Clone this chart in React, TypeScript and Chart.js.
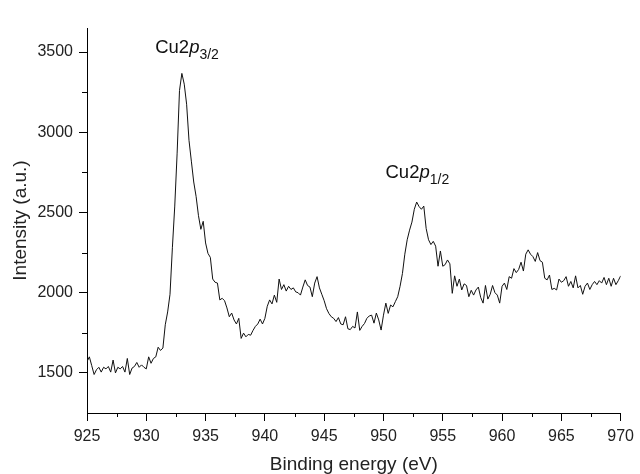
import React, { useEffect, useRef } from "react";
import { Chart, registerables } from "chart.js";

Chart.register(...registerables);

const FONT = "'Liberation Sans', Arial, Helvetica, sans-serif";

// Binding energy grid (eV)
const energyStart = 925;
const energyStep = 0.2;

// Intensity (a.u.), one value per 0.2 eV from 925.0 to 970.0
const intensity = [
  1570, 1600, 1545, 1490, 1520, 1535, 1505, 1535, 1525, 1540,
  1505, 1580, 1500, 1535, 1525, 1540, 1505, 1590, 1490, 1530,
  1540, 1565, 1535, 1550, 1535, 1525, 1600, 1560, 1590, 1600,
  1660, 1640, 1655, 1800, 1880, 1990, 2280, 2540, 2870, 3260,
  3367, 3300, 3175, 2950, 2820, 2690, 2600, 2480, 2395, 2445,
  2310, 2245, 2220, 2085, 2065, 2060, 1955, 1965, 1950, 1905,
  1850, 1873, 1830, 1805, 1840, 1715, 1748, 1725, 1740, 1735,
  1765, 1790, 1805, 1835, 1805, 1840, 1915, 1955, 1930, 1985,
  1940, 2085, 2020, 2050, 2010, 2040, 2020, 2030, 2005, 2000,
  1985, 2035, 2080, 2045, 2035, 1975, 2060, 2100, 2030, 1990,
  1950, 1900, 1870, 1850, 1840, 1820, 1845, 1805, 1800, 1850,
  1775, 1770, 1790, 1780, 1880, 1765, 1790, 1808, 1840, 1855,
  1860, 1810, 1873, 1830, 1767, 1860, 1935, 1871, 1923, 1912,
  1944, 1975, 2040, 2120, 2240, 2330, 2390, 2440, 2520, 2565,
  2537, 2520, 2540, 2400, 2330, 2300, 2320, 2290, 2165, 2260,
  2165, 2175, 2204, 2180, 1996, 2105, 2040, 2085, 2017, 2055,
  2045, 1975, 2015, 1985, 2017, 2035, 1970, 1935, 2045, 1960,
  1990, 2045, 2000, 1985, 1935, 2040, 2060, 2020, 2100, 2090,
  2150, 2125, 2145, 2190, 2135, 2240, 2267, 2240, 2225, 2195,
  2250, 2200, 2190, 2090, 2080, 2110, 2020, 2027, 2017, 2085,
  2065, 2075, 2100, 2040, 2070, 2030, 2105, 2030, 2045, 1990,
  2040, 2060, 2020, 2050, 2070, 2050, 2075, 2060, 2095, 2050,
  2090, 2040, 2090, 2050, 2075, 2105,
];

const xTicks = [925, 930, 935, 940, 945, 950, 955, 960, 965, 970];
const xMinorTicks = [927.5, 932.5, 937.5, 942.5, 947.5, 952.5, 957.5, 962.5, 967.5];
const yTicks = [1500, 2000, 2500, 3000, 3500];
const yMinorTicks = [1750, 2250, 2750, 3250];

const peakLabels = [
  { base: "Cu2", italic: "p", sub: "3/2", x: 930.75, y: 3496 },
  { base: "Cu2", italic: "p", sub: "1/2", x: 950.17, y: 2715 },
];

const overlayPlugin = {
  id: "overlay",
  afterDraw(chart: any) {
    const { ctx, chartArea, scales } = chart;
    const xs = scales.x;
    const ys = scales.y;
    ctx.save();
    ctx.strokeStyle = "#000";
    ctx.lineWidth = 1;
    ctx.beginPath();
    xMinorTicks.forEach((v) => {
      const px = Math.round(xs.getPixelForValue(v)) + 0.5;
      ctx.moveTo(px, chartArea.bottom);
      ctx.lineTo(px, chartArea.bottom + 4);
    });
    yMinorTicks.forEach((v) => {
      const py = Math.round(ys.getPixelForValue(v)) + 0.5;
      ctx.moveTo(chartArea.left - 5, py);
      ctx.lineTo(chartArea.left, py);
    });
    ctx.stroke();

    ctx.fillStyle = "#111";
    ctx.textAlign = "left";
    ctx.textBaseline = "alphabetic";
    peakLabels.forEach((l) => {
      let px = xs.getPixelForValue(l.x);
      const py = ys.getPixelForValue(l.y);
      ctx.font = `18.5px ${FONT}`;
      ctx.fillText(l.base, px, py);
      px += ctx.measureText(l.base).width;
      ctx.font = `italic 18.5px ${FONT}`;
      ctx.fillText(l.italic, px, py);
      px += ctx.measureText(l.italic).width;
      ctx.font = `14px ${FONT}`;
      ctx.fillText(l.sub, px, py + 6);
    });
    ctx.restore();
  },
};

export default function App() {
  const canvasRef = useRef<HTMLCanvasElement | null>(null);

  useEffect(() => {
    if (!canvasRef.current) return;
    const points = intensity.map((v, i) => ({
      x: +(energyStart + i * energyStep).toFixed(1),
      y: v,
    }));
    const chart = new Chart(canvasRef.current, {
      type: "line",
      data: {
        datasets: [
          {
            data: points,
            borderColor: "#111",
            borderWidth: 1,
            pointRadius: 0,
            tension: 0,
            fill: false,
          },
        ],
      },
      options: {
        responsive: false,
        animation: false,
        layout: { padding: { top: 28, right: 15, left: 0, bottom: 0 } },
        plugins: { legend: { display: false }, tooltip: { enabled: false } },
        scales: {
          x: {
            type: "linear",
            min: 925,
            max: 970,
            afterBuildTicks: (axis: any) => {
              axis.ticks = xTicks.map((v) => ({ value: v }));
            },
            afterFit: (s: any) => {
              s.height = 61;
            },
            grid: {
              display: true,
              drawOnChartArea: false,
              drawTicks: true,
              tickLength: 8,
              color: "#000",
              lineWidth: 1,
            },
            border: { display: true, color: "#000", width: 1 },
            ticks: {
              color: "#222",
              font: { family: FONT, size: 16 },
              padding: 6,
              maxRotation: 0,
              autoSkip: false,
              callback: (v: any) => String(v),
            },
            title: {
              display: true,
              text: "Binding energy (eV)",
              color: "#222",
              font: { family: FONT, size: 19, lineHeight: 1 },
              padding: { top: 0, bottom: 0 },
            },
          },
          y: {
            type: "linear",
            min: 1250,
            max: 3650,
            afterBuildTicks: (axis: any) => {
              axis.ticks = yTicks.map((v) => ({ value: v }));
            },
            afterFit: (s: any) => {
              s.width = 87;
            },
            grid: {
              display: true,
              drawOnChartArea: false,
              drawTicks: true,
              tickLength: 8,
              color: "#000",
              lineWidth: 1,
            },
            border: { display: true, color: "#000", width: 1 },
            ticks: {
              color: "#222",
              font: { family: FONT, size: 16 },
              padding: 6,
              autoSkip: false,
              callback: (v: any) => String(v),
            },
            title: {
              display: true,
              text: "Intensity (a.u.)",
              color: "#222",
              font: { family: FONT, size: 19, lineHeight: 1 },
              padding: { top: 11, bottom: 0 },
            },
          },
        },
      },
      plugins: [overlayPlugin],
    } as any);
    return () => chart.destroy();
  }, []);

  return (
    <div style={{ position: "fixed", left: 0, top: 0, width: 640, height: 474, background: "#fff" }}>
      <canvas ref={canvasRef} width={640} height={474} style={{ display: "block" }} />
    </div>
  );
}
